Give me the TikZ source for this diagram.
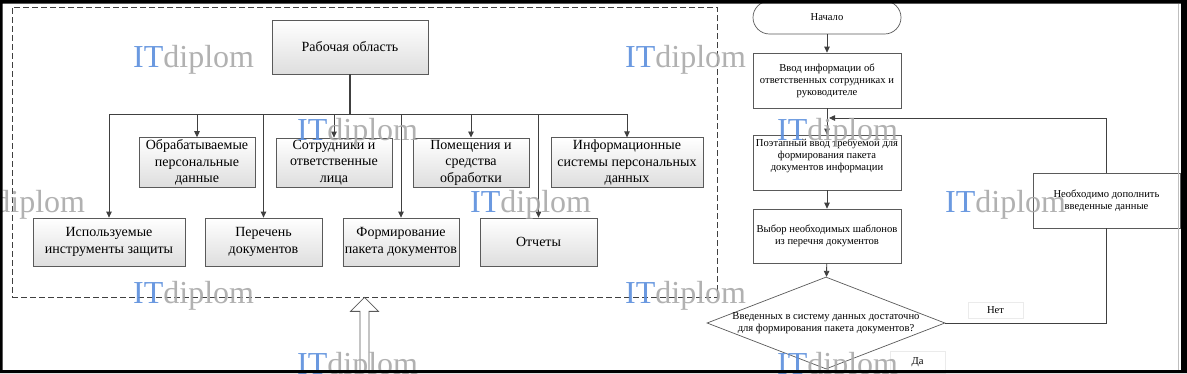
\documentclass[tikz,border=0pt]{standalone}
\usepackage{fontspec}
\setmainfont{Liberation Serif}
\usetikzlibrary{shapes.geometric,arrows.meta}
\definecolor{linegray}{HTML}{404040}
\definecolor{boxgray}{HTML}{5A5A5A}
\definecolor{wmblue}{HTML}{5B8FDD}
\definecolor{wmgray}{HTML}{A9A9A9}
\tikzset{
  treebox/.style={draw=boxgray, line width=0.8pt, top color=white, bottom color=black!13, align=center, inner sep=2pt, font=\fontsize{14}{16.5}\selectfont},
  flowbox/.style={draw=boxgray, line width=0.7pt, fill=white, align=center, inner sep=2pt, minimum width=148, font=\fontsize{10.6}{12}\selectfont},
  tag/.style={draw=black!8, fill=white, minimum width=55, inner sep=1pt, font=\fontsize{10.6}{12}\selectfont},
  link/.style={draw=linegray, line width=0.8pt},
  arr/.style={link, -{Triangle[length=6pt,width=5.5pt]}},
  wmark/.style={inner sep=0pt, anchor=base west, opacity=0.9, font=\fontsize{32}{32}\selectfont}
}
\newcommand{\wmtext}{\textcolor{wmblue}{IT}\textcolor{wmgray}{diplom}}
\begin{document}
\begin{tikzpicture}[x=1pt,y=-1pt]
\useasboundingbox (0,0) rectangle (1187,373);
\fill[white] (0,0) rectangle (1187,373);

\node[draw=linegray, line width=0.7pt, dash pattern=on 6pt off 3pt, minimum width=705, minimum height=290] (area) at (364.5,152) {};
\node[treebox, minimum width=156, minimum height=54] (work) at (350,47) {Рабочая область};
\node[treebox, minimum width=116, minimum height=49] (proc) at (197,162.5) {Обрабатываемые\\персональные\\данные};
\node[treebox, minimum width=116, minimum height=49] (staff) at (334,162.5) {Сотрудники и\\ответственные\\лица};
\node[treebox, minimum width=116, minimum height=49] (rooms) at (471,162.5) {Помещения и\\средства\\обработки};
\node[treebox, minimum width=152, minimum height=49] (isys) at (627,162.5) {Информационные\\системы персональных\\данных};
\node[treebox, minimum width=152, minimum height=48] (tools) at (109,242) {Используемые\\инструменты защиты};
\node[treebox, minimum width=117, minimum height=48] (docs) at (263.5,242) {Перечень\\документов};
\node[treebox, minimum width=116, minimum height=48] (pack) at (401,242) {Формирование\\пакета документов};
\node[treebox, minimum width=117, minimum height=48] (rep) at (538.5,242) {Отчеты};
\coordinate (bus) at (350,114);
\draw[link, line width=1.6pt] (work.south) -- (bus);
\foreach \n in {proc,staff,rooms,isys,tools,docs,pack,rep}
  \draw[arr] (bus) -| (\n.north);
\draw[draw=boxgray, fill=white, line width=0.8pt] (area.south) -- ++(14,14) -- ++(-9.5,0) -- ++(0,70) -- ++(-9,0) -- ++(0,-70) -- ++(-9.5,0) -- cycle;

\node[flowbox, rounded corners=16.5, minimum height=33] (start) at (827,17.5) {Начало};
\node[flowbox, minimum height=55] (info) at (827,80.5) {Ввод информации об\\ответственных сотрудниках и\\руководителе};
\node[flowbox, minimum height=55, text depth=15pt] (steps) at (827,162.5) {Поэтапный ввод требуемой для\\формирования пакета\\документов информации};
\node[flowbox, minimum height=54] (pick) at (827,236) {Выбор необходимых шаблонов\\из перечня документов};
\node[draw=boxgray, line width=0.7pt, fill=white, diamond, shape aspect=2.6, minimum width=238, minimum height=92, inner sep=0pt, align=center, font=\fontsize{10.6}{12}\selectfont] (check) at (826,323) {\makebox[140pt]{Введенных в систему данных достаточно}\\\makebox[140pt]{для формирования пакета документов?}};
\node[flowbox, minimum width=147, minimum height=55] (extra) at (1106.5,200.5) {Необходимо дополнить\\введенные данные};
\node[tag, minimum height=16] (no) at (995.5,310) {Нет};
\node[tag, minimum height=22] (yes) at (917.5,362) {Да};
\coordinate (back) at (829,118);
\draw[arr] (start) -- (info);
\draw[arr] (info) -- (steps);
\draw[arr] (steps) -- (pick);
\draw[arr] (pick) -- (check);
\draw[link] (check.east) -| (extra.south);
\draw[arr] (extra.north) |- (back);

\node[wmark] (wm1) at (133,67) {\wmtext};
\node[wmark] (wm2) at (625,67) {\wmtext};
\node[wmark] (wm3) at (297,140) {\wmtext};
\node[wmark] (wm4) at (777,140) {\wmtext};
\node[wmark] (wm5) at (-36,212) {\wmtext};
\node[wmark] (wm6) at (470,212) {\wmtext};
\node[wmark] (wm7) at (945,212) {\wmtext};
\node[wmark] (wm8) at (133,303) {\wmtext};
\node[wmark] (wm9) at (625,303) {\wmtext};
\node[wmark] (wm10) at (297,374) {\wmtext};
\node[wmark] (wm11) at (777,374) {\wmtext};

\draw[black!25, line width=1pt] (1178.5,3.5) -- (1178.5,370);
\fill[black, even odd rule] (0,0) rectangle (1187,373) (2.5,3.5) rectangle (1181,370);
\end{tikzpicture}
\end{document}
